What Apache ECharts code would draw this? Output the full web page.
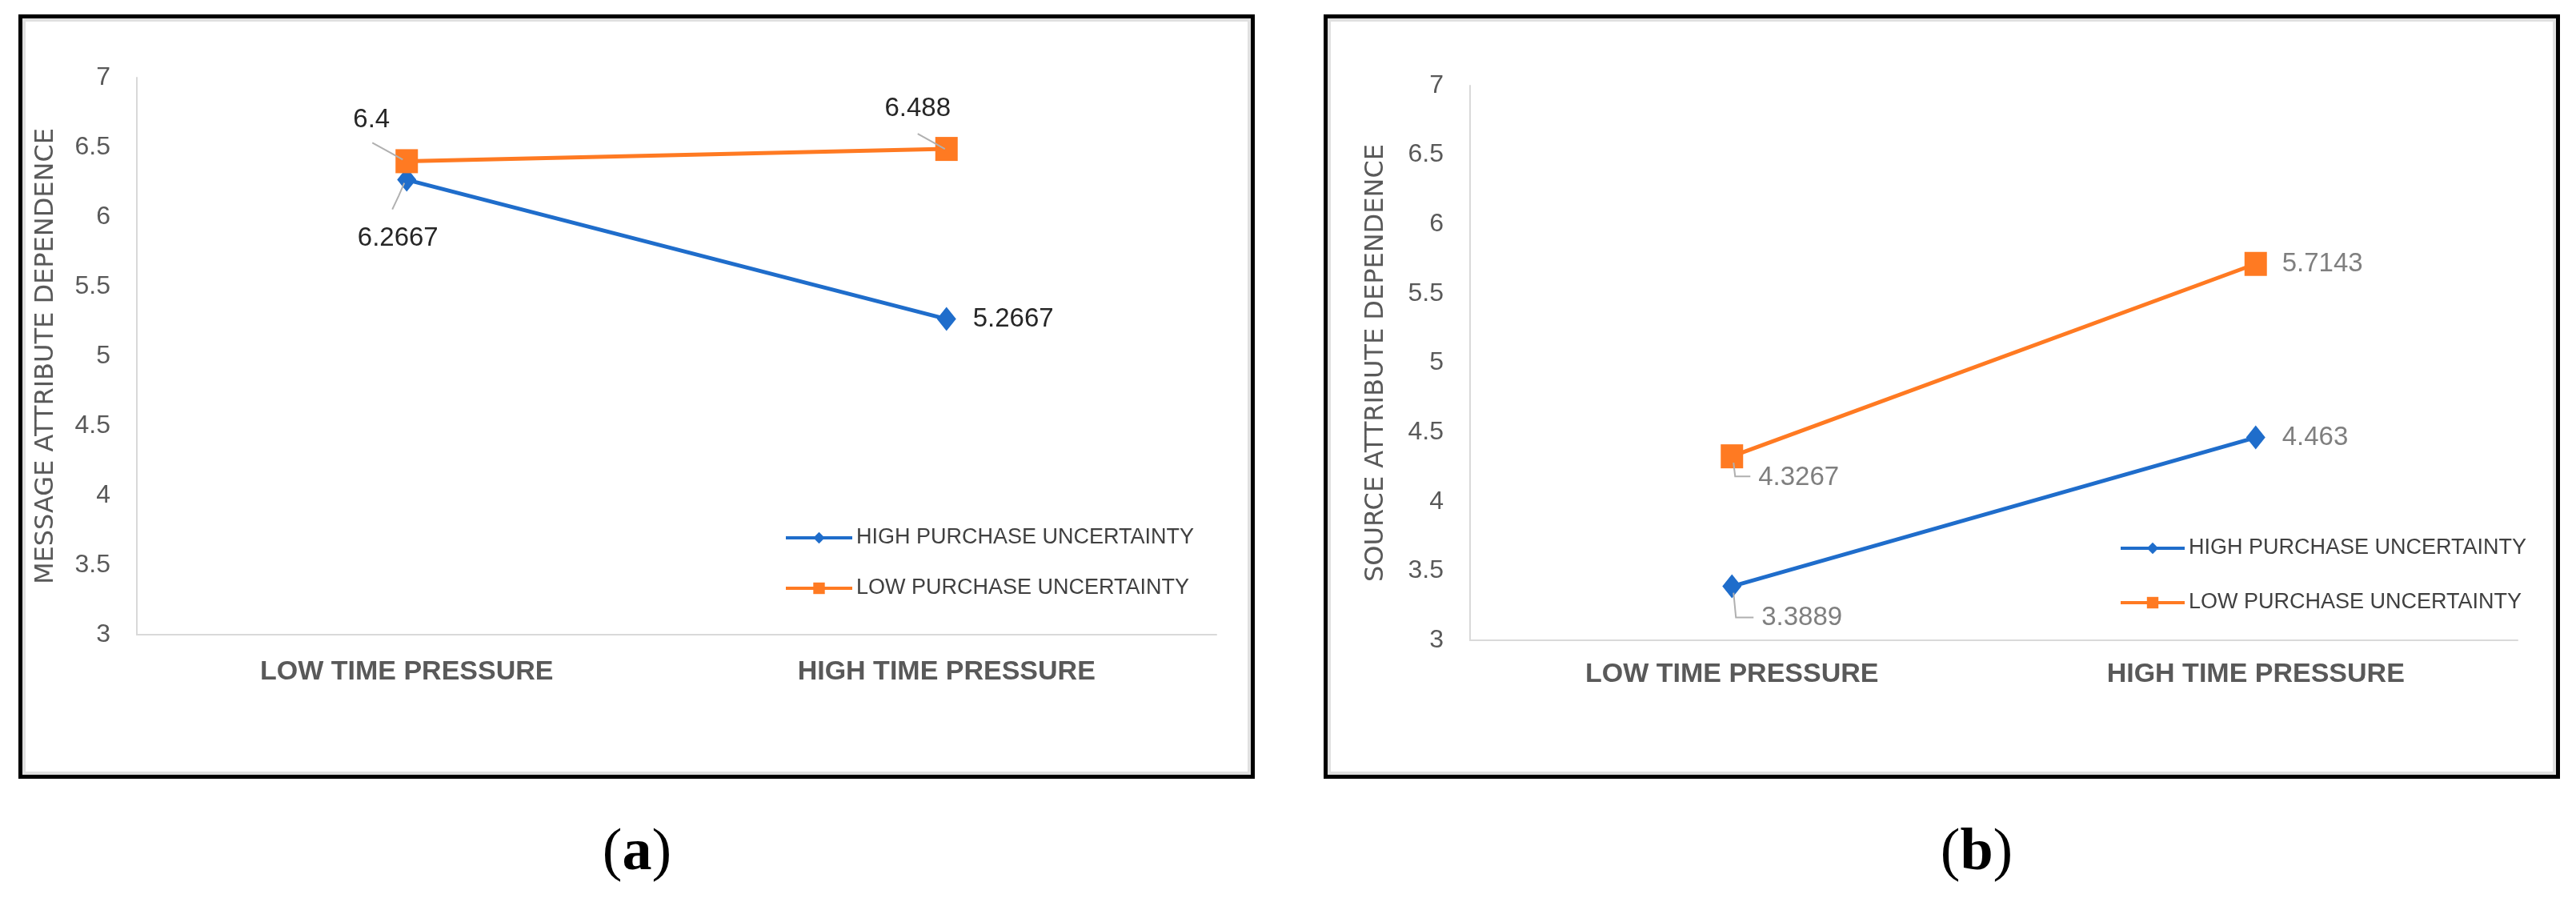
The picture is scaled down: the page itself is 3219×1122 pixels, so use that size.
<!DOCTYPE html>
<html>
<head>
<meta charset="utf-8">
<title>Time pressure x purchase uncertainty</title>
<script src="https://cdn.jsdelivr.net/npm/echarts@6/dist/echarts.min.js"></script>
<style>
  html, body { margin: 0; padding: 0; background: #fff; }
  #main { width: 3219px; height: 1122px; }
</style>
</head>
<body>
<div id="main"></div>
<script>
// data
var categories = ["LOW TIME PRESSURE", "HIGH TIME PRESSURE"];
var seriesNames = ["HIGH PURCHASE UNCERTAINTY", "LOW PURCHASE UNCERTAINTY"];
var messageHigh = [6.2667, 5.2667];
var messageLow = [6.4, 6.488];
var sourceHigh = [3.3889, 4.463];
var sourceLow = [4.3267, 5.7143];
var yMin = 3, yMax = 7, yStep = 0.5;
var yTitles = ["MESSAGE ATTRIBUTE DEPENDENCE", "SOURCE ATTRIBUTE DEPENDENCE"];
var panelTags = ["a", "b"];

var BLUE = "#1F6DCB";
var ORANGE = "#FF7A22";
var GREY = "#595959";

var myChart = echarts.init(document.getElementById("main"));

// where each value label sits, relative to its marker; guide = leader line
var spotsMsgHigh = [
  { dx: -11, dy: 73, guide: [[-18, 37], [-10, 20], [-3, 4]] },
  { dx: 33, dy: 0, align: "left" }
];
var spotsMsgLow = [
  { dx: -44, dy: -51, guide: [[-43, -23], [-23, -12], [-5, -2]] },
  { dx: -36, dy: -50, guide: [[-36, -19], [-18, -9], [-2, 0]] }
];
var spotsSrcHigh = [
  { dx: 37, dy: 39, align: "left", guide: [[2, 8], [5, 39], [27, 39]] },
  { dx: 33, dy: 0, align: "left" }
];
var spotsSrcLow = [
  { dx: 33, dy: 27, align: "left", guide: [[2, 8], [4, 25], [23, 25]] },
  { dx: 33, dy: 0, align: "left" }
];

function placeLabels(spots) {
  return function (p) {
    var s = spots[p.dataIndex];
    var cx = p.rect.x + p.rect.width / 2;
    var cy = p.rect.y + p.rect.height / 2;
    return {
      x: cx + s.dx,
      y: cy + s.dy,
      align: s.align || "center",
      verticalAlign: "middle"
    };
  };
}

function lineSeries(name, data, idx, color, symbol, size, labelColor, spots) {
  return {
    name: name,
    type: "line",
    xAxisIndex: idx,
    yAxisIndex: idx,
    data: data,
    symbol: symbol,
    symbolSize: size,
    itemStyle: { color: color },
    lineStyle: { color: color, width: 5 },
    label: {
      show: true,
      color: labelColor,
      fontSize: 33,
      fontFamily: "Liberation Sans"
    },
    labelLayout: placeLabels(spots),
    z: symbol === "rect" ? 3 : 2
  };
}

function xAxis(idx, margin) {
  return {
    type: "category",
    gridIndex: idx,
    data: categories,
    boundaryGap: true,
    axisLine: { show: true, lineStyle: { color: "#d9d9d9", width: 2 } },
    axisTick: { show: false },
    axisLabel: {
      color: GREY,
      fontSize: 34,
      fontWeight: "bold",
      fontFamily: "Liberation Sans",
      margin: margin
    },
    splitLine: { show: false }
  };
}

function yAxis(idx, gap) {
  return {
    type: "value",
    gridIndex: idx,
    min: yMin,
    max: yMax,
    interval: yStep,
    name: yTitles[idx],
    nameLocation: "middle",
    nameRotate: 90,
    nameGap: gap,
    nameTextStyle: { color: GREY, fontSize: 32, fontFamily: "DejaVu Sans" },
    axisLine: { show: true, lineStyle: { color: "#d9d9d9", width: 2 } },
    axisTick: { show: false },
    axisLabel: {
      color: GREY,
      fontSize: 32,
      fontFamily: "Liberation Sans",
      margin: 33
    },
    splitLine: { show: false }
  };
}

function legend(left, top, gap, width) {
  return {
    data: seriesNames,
    orient: "vertical",
    left: left,
    top: top,
    itemWidth: width,
    itemHeight: 18,
    itemGap: gap,
    lineStyle: { width: 4 },
    textStyle: {
      color: "#404040",
      fontSize: 27,
      lineHeight: 32,
      fontFamily: "Liberation Sans"
    },
    selectedMode: false
  };
}

function frame(x) {
  return [
    {
      type: "rect",
      shape: { x: x + 2.5, y: 20.5, width: 1540, height: 950 },
      style: { fill: "none", stroke: "#000", lineWidth: 5 },
      silent: true
    },
    {
      type: "rect",
      shape: { x: x + 7, y: 25, width: 1531, height: 941 },
      style: { fill: "none", stroke: "#e0e0e0", lineWidth: 4 },
      silent: true
    }
  ];
}

function caption(tag, left) {
  return {
    text: "({t|" + tag + "})",
    left: left,
    top: 1020,
    textAlign: "center",
    textStyle: {
      color: "#000",
      fontSize: 74,
      fontWeight: "normal",
      fontFamily: "Liberation Serif",
      lineHeight: 84,
      rich: {
        t: { fontSize: 74, fontWeight: "bold", fontFamily: "Liberation Serif", lineHeight: 84 }
      }
    }
  };
}

myChart.setOption({
  animation: false,
  backgroundColor: "#fff",
  title: [caption(panelTags[0], 791), caption(panelTags[1], 2465)],
  grid: [
    { left: 171, top: 97, width: 1349, height: 696 },
    { left: 1837, top: 107, width: 1309, height: 693 }
  ],
  xAxis: [xAxis(0, 30), xAxis(1, 26)],
  yAxis: [yAxis(0, 97), yAxis(1, 101)],
  legend: [legend(975, 651, 31, 83), legend(2643, 664, 36, 80)],
  series: [
    lineSeries(seriesNames[0], messageHigh, 0, BLUE, "diamond", [24, 30], "#262626", spotsMsgHigh),
    lineSeries(seriesNames[1], messageLow, 0, ORANGE, "rect", [28, 30], "#262626", spotsMsgLow),
    lineSeries(seriesNames[0], sourceHigh, 1, BLUE, "diamond", [24, 30], "#7f7f7f", spotsSrcHigh),
    lineSeries(seriesNames[1], sourceLow, 1, ORANGE, "rect", [28, 30], "#7f7f7f", spotsSrcLow)
  ]
});

// leader lines, anchored on the markers through the axes
function leaders(idx, values, spots) {
  var out = [];
  values.forEach(function (v, i) {
    var g = spots[i].guide;
    if (!g) return;
    var pt = myChart.convertToPixel({ xAxisIndex: idx, yAxisIndex: idx }, [i, v]);
    out.push({
      type: "polyline",
      silent: true,
      z: 10,
      shape: { points: g.map(function (d) { return [pt[0] + d[0], pt[1] + d[1]]; }) },
      style: { fill: null, stroke: "#b0b0b0", lineWidth: 2 }
    });
  });
  return out;
}

myChart.setOption({
  graphic: frame(23).concat(frame(1654))
    .concat(leaders(0, messageHigh, spotsMsgHigh))
    .concat(leaders(0, messageLow, spotsMsgLow))
    .concat(leaders(1, sourceHigh, spotsSrcHigh))
    .concat(leaders(1, sourceLow, spotsSrcLow))
});
</script>
</body>
</html>
